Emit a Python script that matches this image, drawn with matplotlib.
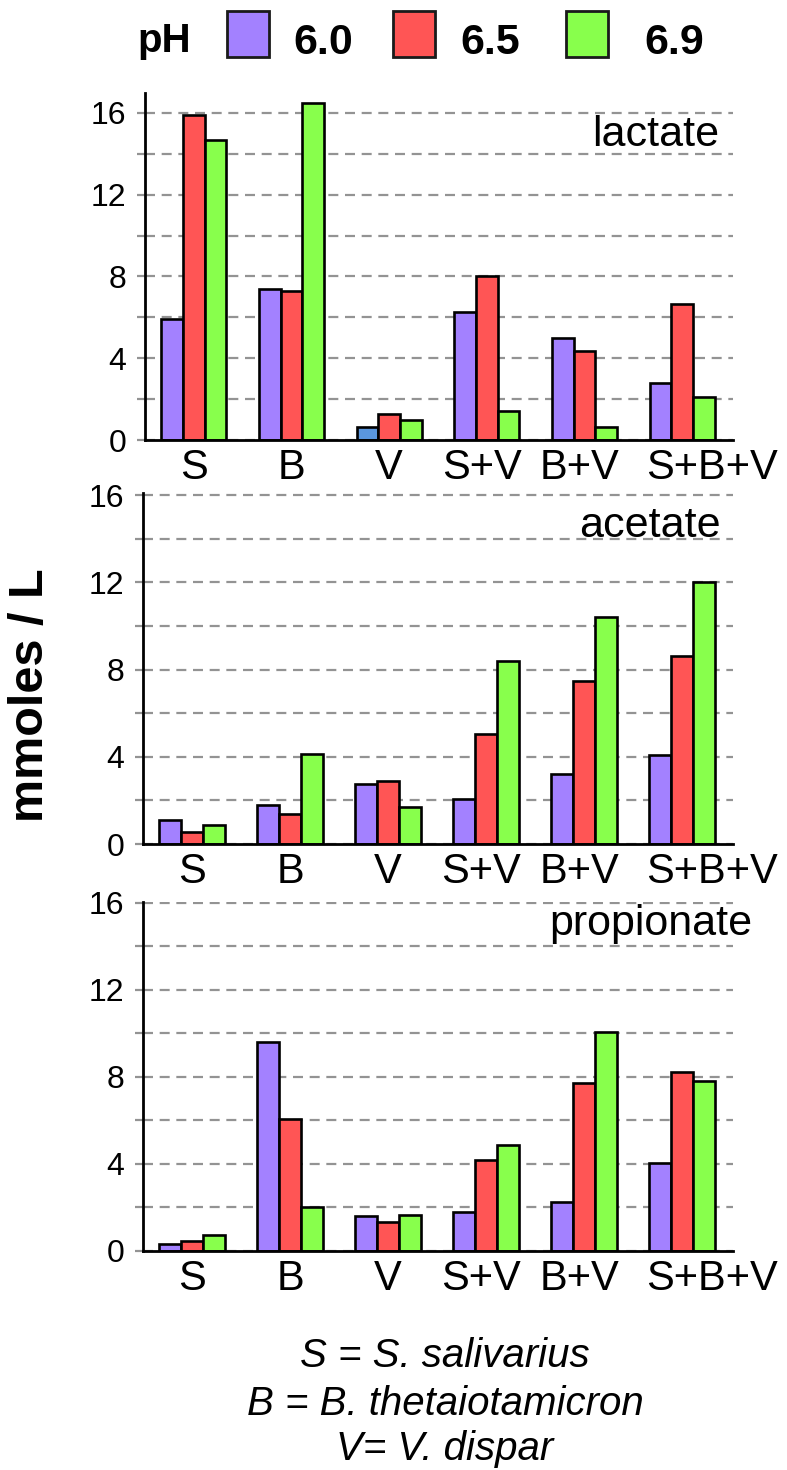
import matplotlib
matplotlib.use("Agg")
import matplotlib.pyplot as plt
from matplotlib import font_manager as fm
from matplotlib.patches import Rectangle
from matplotlib.transforms import ScaledTranslation
import numpy as np

# ---------------- data ----------------
categories = ["S", "B", "V", "S+V", "B+V", "S+B+V"]
ph_levels = ["6.0", "6.5", "6.9"]

lactate_60 = [5.9, 7.4, 0.62, 6.27, 4.97, 2.77]
lactate_65 = [15.9, 7.3, 1.26, 8.03, 4.37, 6.63]
lactate_69 = [14.65, 16.5, 0.99, 1.42, 0.62, 2.12]

acetate_60 = [1.08, 1.79, 2.73, 2.06, 3.19, 4.10]
acetate_65 = [0.55, 1.37, 2.89, 5.05, 7.49, 8.64]
acetate_69 = [0.88, 4.11, 1.70, 8.38, 10.4, 12.0]

propionate_60 = [0.32, 9.59, 1.62, 1.78, 2.24, 4.03]
propionate_65 = [0.47, 6.05, 1.32, 4.18, 7.73, 8.24]
propionate_69 = [0.73, 2.04, 1.65, 4.87, 10.07, 7.82]

panel_names = ["lactate", "acetate", "propionate"]
yticks_major = [0, 4, 8, 12, 16]
yticks_minor = [2, 6, 10, 14]

caption_lines = ["S = S. salivarius", "B = B. thetaiotamicron", "V= V. dispar"]

# ---------------- style ----------------
colors = ["#A381FF", "#FF5555", "#88FF4C"]
highlight_color = "#5A96DE"  # the odd blue bar (lactate, V, pH 6.0)
grid_color = "#939393"

names = {f.name for f in fm.fontManager.ttflist}
base_font = "Liberation Sans" if "Liberation Sans" in names else "DejaVu Sans"
narrow_font = "Liberation Sans Narrow" if "Liberation Sans Narrow" in names else base_font
plt.rcParams["font.family"] = [base_font, "DejaVu Sans"]

W, H = 787, 1470
fig = plt.figure(figsize=(W / 100, H / 100), dpi=100)


def fx(px):
    return px / W


def fy(py):
    return 1 - py / H


# axes pixel boxes: (left, top, right, bottom)
boxes = [(145, 93, 733, 440), (143, 493, 733, 844), (143, 902, 733, 1251)]
series = [
    [lactate_60, lactate_65, lactate_69],
    [acetate_60, acetate_65, acetate_69],
    [propionate_60, propionate_65, propionate_69],
]
ytops = [16.97, 16.1, 16.03]
title_pos = [(0.976, 0.847), (0.98, 0.875), (1.033, 0.905)]
label_shift_px = [0, 0, 0, -5, -5, 30]

x = np.arange(len(categories))
bw = 0.2214

for i, (l, t, r, b) in enumerate(boxes):
    ax = fig.add_axes([fx(l), fy(b), fx(r - l), (b - t) / H])
    for j, vals in enumerate(series[i]):
        bars = ax.bar(x + (j - 1) * bw, vals, width=bw, color=colors[j],
                      edgecolor="black", linewidth=1.9, zorder=3)
        if i == 0 and j == 0:
            bars[2].set_facecolor(highlight_color)
    ax.set_xlim(-0.5, 5.52)
    ax.set_ylim(0, ytops[i])
    ax.set_yticks(yticks_major)
    ax.set_yticks(yticks_minor, minor=True)
    ax.set_yticklabels([str(v) for v in yticks_major], fontsize=23)
    ax.yaxis.grid(True, which="both", color=grid_color, linestyle=(0, (4.5, 3)),
                  linewidth=1.6, zorder=0)
    ax.set_axisbelow(True)
    ax.tick_params(axis="y", which="both", length=5.5, width=1.6,
                   color=grid_color, pad=8, direction="out")
    ax.set_xticks(x)
    ax.set_xticklabels(categories, fontsize=30)
    ax.tick_params(axis="x", length=0, pad=6)
    for lbl, sh in zip(ax.get_xticklabels(), label_shift_px):
        if sh:
            lbl.set_transform(lbl.get_transform() +
                              ScaledTranslation(sh / 100, 0, fig.dpi_scale_trans))
    for s in ["top", "right"]:
        ax.spines[s].set_visible(False)
    for s in ["left", "bottom"]:
        ax.spines[s].set_linewidth(2.0)
        ax.spines[s].set_color("black")
        ax.spines[s].set_zorder(4)
    tx, ty = title_pos[i]
    ax.text(tx, ty, panel_names[i], transform=ax.transAxes, ha="right",
            va="baseline", fontsize=31, clip_on=False)

# y label
fig.text(fx(31), fy(695), "mmoles / L", rotation=90, ha="center", va="center",
         fontsize=35, fontweight="bold")

# legend
fig.text(fx(137), fy(52), "pH", ha="left", va="baseline", fontsize=29,
         fontweight="bold")
box_x = [227, 393, 566]
text_x = [293, 460, 644]
for k, lab in enumerate(ph_levels):
    fig.add_artist(Rectangle((fx(box_x[k]), fy(57)), 42 / W, 46 / H,
                             transform=fig.transFigure, facecolor=colors[k],
                             edgecolor="#1a1a1a", linewidth=2.0))
    fig.text(fx(text_x[k]), fy(54), lab, ha="left", va="baseline",
             fontsize=36 if narrow_font != base_font else 31,
             fontweight="bold", family=[narrow_font, "DejaVu Sans"])

# caption
for line, yb in zip(caption_lines, [1367, 1415, 1460]):
    fig.text(fx(445), fy(yb), line, ha="center", va="baseline", fontsize=29,
             fontstyle="italic")

fig.savefig("out.png", dpi=100)
